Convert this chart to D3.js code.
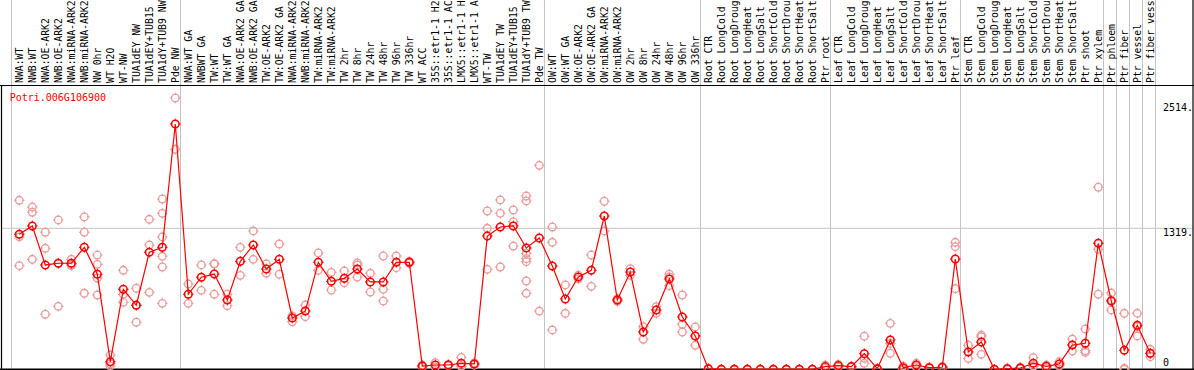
<!DOCTYPE html>
<html>
<head>
<meta charset="utf-8">
<script src="https://cdn.jsdelivr.net/npm/d3@7"></script>
<style>
  html, body { margin: 0; padding: 0; background: #fff; }
  svg { display: block; }
  text { font-family: "DejaVu Sans Mono", monospace; font-size: 10px; }
  text.cat { font-size: 9.8px; }
</style>
</head>
<body>
<svg id="chart" width="1194" height="370"></svg>
<script>
const geneId = "Potri.006G106900";

const categories = [
  "NWA:WT","NWB:WT","NWA:OE-ARK2","NWB:OE-ARK2","NWA:miRNA-ARK2","NWB:miRNA-ARK2","NW 0hr","WT H2O","WT-NW","TUA1dEY NW","TUA1dEY+TUB15","TUA1dY+TUB9 NW","Pde NW",
  "NWA:WT GA","NWBWT GA","TW:WT","TW:WT GA","NWA:OE-ARK2 GA","NWB:OE-ARK2 GA","TW:OE-ARK2","TW:OE-ARK2 GA","NWA:miRNA-ARK2","NWB:miRNA-ARK2","TW:miRNA-ARK2","TW:miRNA-ARK2",
  "TW 2hr","TW 8hr","TW 24hr","TW 48hr","TW 96hr","TW 336hr","WT ACC","35S::etr1-1 H2","35S::etr1-1 AC","LMX5::etr1-1 H","LMX5::etr1-1 A","WT-TW","TUA1dEY TW","TUA1dEY+TUB15","TUA1dY+TUB9 TW","Pde TW",
  "OW:WT","OW:WT GA","OW:OE-ARK2","OW:OE-ARK2 GA","OW:miRNA-ARK2","OW:miRNA-ARK2","OW 2hr","OW 8hr","OW 24hr","OW 48hr","OW 96hr","OW 336hr",
  "Root CTR","Root LongCold","Root LongDroug","Root LongHeat","Root LongSalt","Root ShortCold","Root ShortDrou","Root ShortHeat","Root ShortSalt","Ptr root",
  "Leaf CTR","Leaf LongCold","Leaf LongDroug","Leaf LongHeat","Leaf LongSalt","Leaf ShortCold","Leaf ShortDrou","Leaf ShortHeat","Leaf ShortSalt","Ptr leaf",
  "Stem CTR","Stem LongCold","Stem LongDroug","Stem LongHeat","Stem LongSalt","Stem ShortCold","Stem ShortDrou","Stem ShortHeat","Stem ShortSalt","Ptr shoot",
  "Ptr xylem","Ptr phloem","Ptr fiber","Ptr vessel","Ptr fiber vess"
];

const means = [
  1263,1341,976,992,992,1141,889,71,748,599,1095,1141,2295,
  702,861,891,648,1010,1163,938,1029,480,545,1001,823,851,938,817,817,1001,1001,31,40,40,56,50,1247,1331,1341,1135,1228,
  966,658,863,926,1434,648,910,349,555,845,489,312,
  5,0,0,0,0,0,0,0,0,25,
  34,25,146,5,274,15,40,15,19,1032,
  162,255,0,5,12,56,28,50,227,243,
  1179,639,178,412,150
];

const replicates = [
  [1581,969,1239],[1518,1469,1029],[1282,1132,515],[1397,589,990],[1029,969,978],[1425,1282,711],[1069,982,854,695],[134,52,30],[926,627,700],[758,440,599],[1403,1163,720],[1593,1459,1238,1057,957,617],[2538,2058],
  [798,617],[976,739],[988,985,702],[702,595],[1141,879],[1294,1029],[985,898],[1172,889],[499,445],[602,492],[1088,926],[907,742],[920,810],[995,975,863],[898,723],[1060,748,639],[1060,951],[1010,992],[40,22],[62,20],[45,35],[112,25,30],[60,40],[1481,1319,935],[1584,1459,957],[1490,1381,1153],[1621,1575,1085,1035,1007,826,711],[1908,545],
  [1331,1188,368],[789,524],[880,846],[1069,776],[1572,1294],[660,636],[941,879],[399,281],[586,524],[889,782,864],[695,421,349],[396,225],
  [8,2],[0,0],[0,0],[0,0],[0,0],[0,0],[0,0],[0,0],[0,0],[40,10],
  [45,22],[30,20],[309,103,56],[8,2],[430,150,242],[30,0],[56,24],[20,10],[25,13],[1188,1147,754],
  [225,100],[305,320,140],[0,0],[10,0],[20,5],[109,30,30],[40,16],[70,30],[283,171],[377,174,159],
  [1703,1123,702],[714,555,648],[524,9,0],[524,312,400],[187,118,145]
];

// column indices before which a gray separator is drawn
const separatorsBefore = [0,13,41,53,63,73,84,85,86,87,88];
const yTicks = [0, 1319, 2514];

const W = 1194, H = 370;
const headerBottom = 85, plotBottom = 369.3;
const svg = d3.select("#chart");

const x = d3.scaleLinear().domain([0, categories.length - 1]).range([19.3, 19.3 + 13 * (categories.length - 1)]);
const y = d3.scaleLinear().domain([0, 1319]).range([plotBottom, 228.3]);

const gray = "#c4c4c4";
const pink = "#ec9a9a";
const red = "#ff0000";

svg.append("rect").attr("width", W).attr("height", H).attr("fill", "#fff");

// horizontal grid line
svg.append("line").attr("x1", 1).attr("x2", W - 1)
  .attr("y1", y(yTicks[1])).attr("y2", y(yTicks[1]))
  .attr("stroke", gray).attr("stroke-width", 1);

// vertical separators
svg.selectAll("line.sep").data(separatorsBefore).join("line")
  .attr("class", "sep")
  .attr("x1", d => Math.round(x(d) - 8.5) + 0.5)
  .attr("x2", d => Math.round(x(d) - 8.5) + 0.5)
  .attr("y1", 0).attr("y2", plotBottom)
  .attr("stroke", gray).attr("stroke-width", 1);

// frame
svg.append("line").attr("x1", 0).attr("x2", W).attr("y1", headerBottom + 0.5).attr("y2", headerBottom + 0.5).attr("stroke", "#000").attr("stroke-width", 1.2);
svg.append("line").attr("x1", 0).attr("x2", W).attr("y1", plotBottom).attr("y2", plotBottom).attr("stroke", "#000").attr("stroke-width", 1.6);
svg.append("line").attr("x1", 1.5).attr("x2", 1.5).attr("y1", headerBottom).attr("y2", plotBottom).attr("stroke", "#000").attr("stroke-width", 1.2);
svg.append("line").attr("x1", W - 1).attr("x2", W - 1).attr("y1", 0).attr("y2", plotBottom).attr("stroke", "#000").attr("stroke-width", 1.2);

// column labels
svg.selectAll("text.cat").data(categories).join("text")
  .attr("class", "cat")
  .attr("transform", (d, i) => `translate(${x(i) + 3.6},83) rotate(-90)`)
  .attr("fill", "#000")
  .text(d => d);

// gene title
svg.append("text").attr("x", 9.7).attr("y", 100.5).attr("fill", red).text(geneId);

// right value labels
svg.selectAll("text.tick").data(yTicks).join("text")
  .attr("class", "tick")
  .attr("x", 1163)
  .attr("y", d => d === 0 ? y(d) - 3.5 : y(d) + 8 + (d === 2514 ? 2.5 : 0))
  .attr("fill", "#000")
  .text(d => d === 0 ? "0" : d + ".");

const plot = svg.append("g");

function marker(g, color, sw) {
  g.append("circle").attr("r", 3.8).attr("fill", "none").attr("stroke", color).attr("stroke-width", sw);
  g.append("path")
    .attr("d", "M0,-5.3V-3 M0,3V5.3 M-5.3,0H-3 M3,0H5.3")
    .attr("stroke", color).attr("stroke-width", 1).attr("fill", "none");
}

// replicate points
const repPoints = [];
replicates.forEach((arr, i) => arr.forEach(v => repPoints.push({i, v})));
plot.selectAll("g.rep").data(repPoints).join("g")
  .attr("class", "rep")
  .attr("transform", d => `translate(${x(d.i)},${y(d.v)})`)
  .each(function() { marker(d3.select(this), pink, 1.3); });

// mean line
plot.append("path")
  .datum(means)
  .attr("fill", "none").attr("stroke", red).attr("stroke-width", 1.2)
  .attr("d", d3.line().x((d, i) => x(i)).y(d => y(d)));

// mean points
plot.selectAll("g.mean").data(means).join("g")
  .attr("class", "mean")
  .attr("transform", (d, i) => `translate(${x(i)},${y(d)})`)
  .each(function() { marker(d3.select(this), red, 1.5); });
</script>
</body>
</html>
